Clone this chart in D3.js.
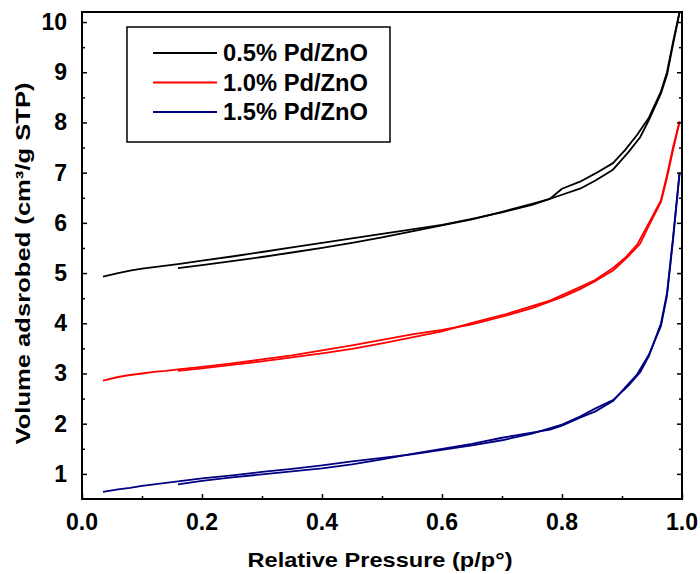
<!DOCTYPE html>
<html>
<head>
<meta charset="utf-8">
<script src="https://cdn.jsdelivr.net/npm/d3@7"></script>
<style>
  body { margin: 0; background: #fff; }
  text { font-family: Arial, "Liberation Sans", sans-serif; font-weight: bold; }
</style>
</head>
<body>
<div id="chart"></div>
<script>
// series names / colours
const seriesNames = ["0.5% Pd/ZnO", "1.0% Pd/ZnO", "1.5% Pd/ZnO"];
const seriesColors = ["#000000", "#ff0000", "#000080"];

// adsorption branch (relative pressure rising)
const adsP = [0.035, 0.06, 0.08, 0.10, 0.12, 0.14, 0.16, 0.20, 0.25, 0.30, 0.35, 0.40, 0.45, 0.50, 0.55, 0.60, 0.65, 0.70, 0.75, 0.80, 0.83, 0.855, 0.885, 0.91, 0.93, 0.945, 0.965, 0.975, 0.985, 0.996];
const adsBlack = [4.93, 5.00, 5.05, 5.09, 5.12, 5.15, 5.18, 5.25, 5.33, 5.42, 5.51, 5.60, 5.69, 5.78, 5.87, 5.96, 6.08, 6.21, 6.36, 6.56, 6.68, 6.84, 7.06, 7.40, 7.70, 8.05, 8.58, 8.95, 9.55, 10.2];
const adsRed = [2.86, 2.93, 2.97, 3.00, 3.03, 3.05, 3.08, 3.13, 3.20, 3.28, 3.36, 3.46, 3.56, 3.67, 3.78, 3.87, 3.98, 4.13, 4.30, 4.52, 4.68, 4.84, 5.05, 5.33, 5.58, 5.95, 6.42, 6.90, 7.45, 8.02];
const adsBlue = [0.64, 0.69, 0.72, 0.76, 0.79, 0.82, 0.85, 0.91, 0.97, 1.04, 1.10, 1.17, 1.25, 1.32, 1.39, 1.48, 1.57, 1.67, 1.80, 1.98, 2.14, 2.30, 2.47, 2.75, 3.02, 3.35, 4.00, 4.60, 5.70, 7.00];

// desorption branch (relative pressure falling)
const desP = [0.996, 0.985, 0.975, 0.965, 0.945, 0.925, 0.905, 0.885, 0.855, 0.83, 0.80, 0.78, 0.75, 0.70, 0.65, 0.60, 0.55, 0.50, 0.45, 0.40, 0.35, 0.30, 0.25, 0.20, 0.16];
const desBlack = [10.2, 9.60, 9.00, 8.62, 8.10, 7.75, 7.45, 7.19, 6.98, 6.82, 6.68, 6.48, 6.38, 6.22, 6.07, 5.95, 5.83, 5.71, 5.60, 5.50, 5.41, 5.32, 5.24, 5.16, 5.10];
const desRed = [8.02, 7.50, 6.95, 6.45, 6.00, 5.56, 5.30, 5.10, 4.86, 4.72, 4.56, 4.45, 4.34, 4.16, 4.01, 3.84, 3.72, 3.60, 3.49, 3.40, 3.32, 3.24, 3.17, 3.10, 3.05];
const desBlue = [7.00, 5.65, 4.55, 3.95, 3.38, 2.98, 2.72, 2.45, 2.24, 2.12, 1.96, 1.88, 1.82, 1.72, 1.60, 1.50, 1.40, 1.29, 1.19, 1.11, 1.05, 0.99, 0.93, 0.86, 0.79];

const xTicks = [0.0, 0.2, 0.4, 0.6, 0.8, 1.0];
const yTicks = [1, 2, 3, 4, 5, 6, 7, 8, 9, 10];

const adsSeries = [adsBlack, adsRed, adsBlue];
const desSeries = [desBlack, desRed, desBlue];

const W = 700, H = 574;
const margin = {top: 12, right: 18, bottom: 75, left: 82};
const width = W - margin.left - margin.right,
      height = H - margin.top - margin.bottom;

const svg = d3.select("#chart").append("svg")
  .attr("width", W).attr("height", H)
  .append("g")
  .attr("transform", "translate(" + margin.left + "," + margin.top + ")");

const x = d3.scaleLinear().domain([0, 1]).range([0, width]);
const y = d3.scaleLinear().domain([0.5, 10.2]).range([height, 0]);

// curves
const line = d3.line().x(d => x(d[0])).y(d => y(d[1]));
seriesNames.forEach(function(name, i) {
  const ads = adsP.map((p, j) => [p, adsSeries[i][j]]);
  const des = desP.map((p, j) => [p, desSeries[i][j]]);
  [ads, des].forEach(function(pts) {
    svg.append("path")
      .datum(pts)
      .attr("fill", "none")
      .attr("stroke", seriesColors[i])
      .attr("stroke-width", 1.8)
      .attr("stroke-linejoin", "round")
      .attr("d", line);
  });
});

// axes (ticks point inward)
const xAxis = svg.append("g").attr("transform", "translate(0," + height + ")");
xAxis.call(d3.axisBottom(x).tickValues(d3.range(0, 1.001, 0.1)).tickSize(-3).tickFormat(""));
xAxis.call(g => g.selectAll(".tick line").filter((d, i) => i % 2 === 0).attr("y2", -5));
xAxis.select(".domain").remove();
xAxis.selectAll(".tick line").attr("stroke-width", 1.5);
svg.append("g").selectAll("text").data(xTicks).join("text")
  .attr("x", d => x(d)).attr("y", height + 31)
  .attr("text-anchor", "middle")
  .style("font-size", "23px")
  .text(d => d.toFixed(1));

const minorY = d3.range(1, 10.01, 0.5);
[0, width].forEach(function(xp, side) {
  const g = svg.append("g").attr("transform", "translate(" + xp + ",0)");
  const ax = side === 0 ? d3.axisLeft(y) : d3.axisRight(y);
  g.call(ax.tickValues(minorY).tickSize(-3).tickFormat(""));
  g.selectAll(".tick line").filter(d => Number.isInteger(d)).attr("x2", side === 0 ? 5 : -5);
  g.selectAll(".tick line").attr("stroke-width", 1.5);
  g.select(".domain").remove();
});
svg.append("g").selectAll("text").data(yTicks).join("text")
  .attr("x", -15).attr("y", d => y(d) + 8)
  .attr("text-anchor", "end")
  .style("font-size", "23px")
  .text(d => d);

// frame
svg.append("rect")
  .attr("x", 0).attr("y", 0).attr("width", width).attr("height", height)
  .attr("fill", "none").attr("stroke", "#000").attr("stroke-width", 2);

// axis titles
svg.append("text")
  .attr("x", width / 2 - 2).attr("y", height + 68)
  .attr("text-anchor", "middle")
  .attr("textLength", 265).attr("lengthAdjust", "spacingAndGlyphs")
  .style("font-size", "21px")
  .text("Relative Pressure (p/p°)");

svg.append("text")
  .attr("transform", "rotate(-90)")
  .attr("x", -(height / 2) - 8).attr("y", -52)
  .attr("text-anchor", "middle")
  .attr("textLength", 362).attr("lengthAdjust", "spacingAndGlyphs")
  .style("font-size", "21px")
  .text("Volume adsrobed (cm³/g STP)");

// legend
const legend = svg.append("g").attr("transform", "translate(45,15)");
legend.append("rect")
  .attr("width", 263).attr("height", 115)
  .attr("fill", "#fff").attr("stroke", "#000").attr("stroke-width", 1.5);
seriesNames.forEach(function(name, i) {
  const ly = 26 + i * 29.5;
  legend.append("line")
    .attr("x1", 26).attr("x2", 90).attr("y1", ly).attr("y2", ly)
    .attr("stroke", seriesColors[i]).attr("stroke-width", 1.8);
  legend.append("text")
    .attr("x", 96).attr("y", ly + 8)
    .attr("textLength", 145).attr("lengthAdjust", "spacingAndGlyphs")
    .style("font-size", "23px")
    .text(name);
});
</script>
</body>
</html>
